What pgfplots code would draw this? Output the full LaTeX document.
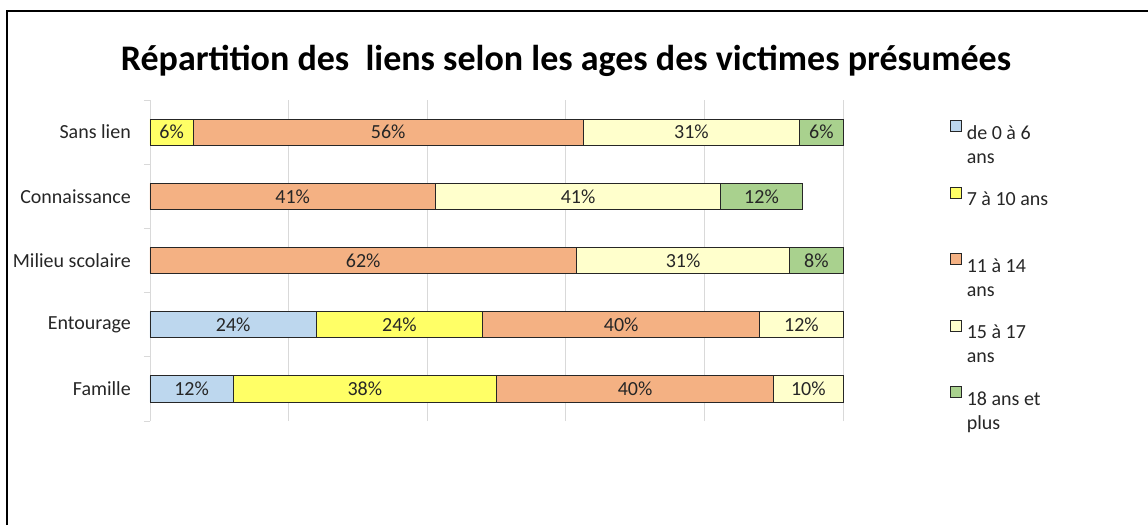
\documentclass[border=0pt]{standalone}
\usepackage{pgfplots}
\pgfplotsset{compat=1.18}
\usepackage{pgfplotstable}
\usepackage{fontspec}
\setmainfont{Carlito}

\definecolor{cBlue}{HTML}{BDD7EE}
\definecolor{cYel}{HTML}{FFFF66}
\definecolor{cSal}{HTML}{F4B183}
\definecolor{cLYel}{HTML}{FFFFCC}
\definecolor{cGrn}{HTML}{A9D18E}
\definecolor{cGrid}{HTML}{D9D9D9}

% parts (in %) per age group, one row per kind of link
% pos: 0 Famille, 1 Entourage, 2 Milieu scolaire, 3 Connaissance, 4 Sans lien
\pgfplotstableread{
pos a     b     c     d     e
0   12    38    40    10    0
1   24    24    40    12    0
2   0     0     61.54 30.77 7.69
3   0     0     41.18 41.18 11.76
4   0     6.25  56.25 31.25 6.25
}\liens

% two-line legend text, base on the first line
\newcommand\twoline[2]{\vtop{\hbox{\strut #1}\hbox{\strut #2}}}

\begin{document}
\begin{tikzpicture}[x=1pt,y=1pt]
\useasboundingbox (0,0) rectangle (1148,525);
\draw[line width=2.2pt] (7,0) -- (7,514) -- (1148,514);
\node[font=\bfseries\fontsize{36}{42}\selectfont, anchor=base] at (566,454)
  {Répartition des \ liens selon les ages des victimes présumées};

\begin{axis}[
  at={(150pt,104pt)}, anchor=south west,
  scale only axis, width=693pt, height=321pt,
  xbar stacked, bar width=26pt,
  xmin=0, xmax=100, ymin=-0.5, ymax=4.5,
  clip=false,
  axis lines*=left,
  x axis line style={draw=none},
  y axis line style={cGrid, line width=0.8pt},
  xtick={0,20,...,100}, xticklabels={},
  xmajorgrids, grid style={cGrid, line width=0.8pt},
  ytick={0,...,4},
  yticklabels={Famille, Entourage, Milieu scolaire, Connaissance, Sans lien},
  minor ytick={-0.5,0.5,...,4.5},
  major tick length=0pt, minor tick length=6pt, tick align=outside,
  tick style={cGrid, line width=0.8pt},
  yticklabel style={font=\fontsize{20}{24}\selectfont, text=black!85, inner sep=0pt, xshift=-19pt},
  /pgf/number format/assume math mode=true,
  every axis plot/.append style={draw=black!85, line width=0.8pt},
  nodes near coords={\pgfmathtruncatemacro\tenx{10*\rawx}%
    \ifnum\tenx>5 \pgfmathprintnumber[fixed,precision=0]{\rawx}\%\fi},
  every node near coord/.append style={font=\fontsize{20}{24}\selectfont, text=black!85,
    anchor=center},
  legend image code/.code={\draw[#1, line width=0.6pt] (0pt,0pt) rectangle (11pt,11pt);},
  legend cell align=left,
  legend style={at={(rel axis cs:1.1544,0.937)}, anchor=north west, draw=none, fill=none,
    inner sep=0pt, row sep=46pt, font=\fontsize{20}{24}\selectfont, text=black!85,
    nodes={inner sep=0pt},
    /tikz/every odd column/.style={column sep=5pt}},
]
\addplot[fill=cBlue, visualization depends on={\thisrow{a} \as \rawx}] table[x=a, y=pos]{\liens};
\addlegendentry{\twoline{de 0 à 6}{ans}}
\addplot[fill=cYel, visualization depends on={\thisrow{b} \as \rawx}] table[x=b, y=pos]{\liens};
\addlegendentry{\twoline{7 à 10 ans}{}}
\addplot[fill=cSal, visualization depends on={\thisrow{c} \as \rawx}] table[x=c, y=pos]{\liens};
\addlegendentry{\twoline{11 à 14}{ans}}
\addplot[fill=cLYel, visualization depends on={\thisrow{d} \as \rawx}] table[x=d, y=pos]{\liens};
\addlegendentry{\twoline{15 à 17}{ans}}
\addplot[fill=cGrn, visualization depends on={\thisrow{e} \as \rawx}] table[x=e, y=pos]{\liens};
\addlegendentry{\twoline{18 ans et}{plus}}
\end{axis}
\end{tikzpicture}
\end{document}
